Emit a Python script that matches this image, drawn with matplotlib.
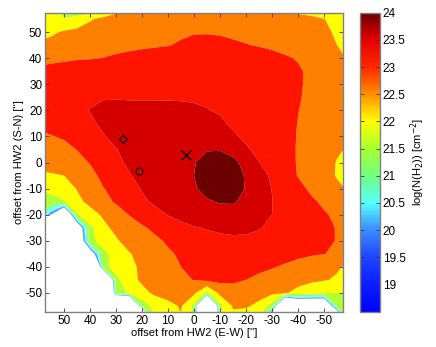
import matplotlib
matplotlib.use('Agg')
import matplotlib.pyplot as plt
from matplotlib.colors import LinearSegmentedColormap, Normalize
from matplotlib.cm import ScalarMappable

plt.rcParams['font.family'] = ['Liberation Sans', 'DejaVu Sans']
plt.rcParams['axes.unicode_minus'] = False

# ---- data ----
x_offsets = [60, 55, 50, 45, 40, 35, 30, 25, 20, 15, 10, 5, 0,
             -5, -10, -15, -20, -25, -30, -35, -40, -45, -50, -55, -60]
y_offsets = [60, 55, 50, 45, 40, 35, 30, 25, 20, 15, 10, 5, 0,
             -5, -10, -15, -20, -25, -30, -35, -40, -45, -50, -55, -60]

# log10 N(H2) on the grid, rows from y=+60 (top) to y=-60 (bottom),
# columns from x=+60 (east, left) to x=-60 (west, right)
log_nh2 = [
    [22.0, 21.75, 21.2, 21.2, 21.1, 21.6, 21.95, 22.1, 22.4, 22.45, 22.5, 22.55, 22.55, 22.55, 22.55, 22.55, 22.52, 22.5, 22.45, 22.1, 21.9, 21.85, 21.85, 21.85, 21.85],
    [21.9, 21.85, 21.8, 21.9, 22.2, 22.35, 22.45, 22.5, 22.55, 22.58, 22.6, 22.62, 22.63, 22.63, 22.62, 22.6, 22.58, 22.55, 22.53, 22.5, 22.45, 22.38, 22.26, 22.1, 22.0],
    [22.1, 22.17, 22.3, 22.38, 22.45, 22.5, 22.55, 22.58, 22.6, 22.62, 22.65, 22.68, 22.72, 22.72, 22.7, 22.65, 22.6, 22.57, 22.55, 22.5, 22.45, 22.4, 22.32, 22.2, 22.1],
    [22.3, 22.4, 22.45, 22.5, 22.55, 22.58, 22.6, 22.63, 22.67, 22.7, 22.73, 22.8, 22.87, 22.9, 22.88, 22.83, 22.77, 22.72, 22.67, 22.6, 22.52, 22.45, 22.37, 22.25, 22.1],
    [22.6, 22.66, 22.69, 22.72, 22.73, 22.755, 22.82, 22.88, 22.92, 22.96, 23.0, 23.03, 23.05, 23.06, 23.05, 23.03, 23.0, 22.95, 22.88, 22.8, 22.72, 22.6, 22.5, 22.35, 22.2],
    [22.85, 22.87, 22.9, 22.93, 22.97, 23.0, 23.05, 23.08, 23.1, 23.12, 23.13, 23.15, 23.17, 23.18, 23.18, 23.17, 23.15, 23.1, 23.02, 22.92, 22.8, 22.67, 22.55, 22.45, 22.38],
    [22.95, 22.97, 23.0, 23.03, 23.07, 23.1, 23.13, 23.15, 23.17, 23.18, 23.19, 23.2, 23.21, 23.22, 23.22, 23.2, 23.18, 23.13, 23.05, 22.94, 22.8, 22.67, 22.55, 22.45, 22.4],
    [23.0, 23.05, 23.1, 23.15, 23.2, 23.23, 23.23, 23.22, 23.22, 23.22, 23.22, 23.22, 23.22, 23.21, 23.2, 23.18, 23.15, 23.1, 23.03, 22.92, 22.79, 22.65, 22.55, 22.47, 22.42],
    [22.95, 23.05, 23.12, 23.18, 23.26, 23.32, 23.34, 23.35, 23.35, 23.35, 23.34, 23.32, 23.29, 23.26, 23.22, 23.18, 23.14, 23.08, 23.0, 22.9, 22.76, 22.63, 22.53, 22.47, 22.43],
    [22.85, 22.9, 22.98, 23.05, 23.2, 23.3, 23.37, 23.42, 23.45, 23.47, 23.48, 23.47, 23.45, 23.4, 23.3, 23.2, 23.13, 23.06, 22.98, 22.88, 22.74, 22.62, 22.53, 22.47, 22.43],
    [22.65, 22.73, 22.8, 22.9, 23.05, 23.23, 23.32, 23.4, 23.47, 23.53, 23.57, 23.6, 23.6, 23.55, 23.45, 23.3, 23.18, 23.08, 22.98, 22.87, 22.73, 22.6, 22.48, 22.4, 22.35],
    [22.5, 22.55, 22.62, 22.76, 22.95, 23.1, 23.24, 23.35, 23.45, 23.52, 23.58, 23.63, 23.69, 23.73, 23.73, 23.62, 23.3, 23.15, 23.02, 22.88, 22.72, 22.55, 22.43, 22.3, 22.2],
    [22.4, 22.45, 22.5, 22.62, 22.77, 22.95, 23.15, 23.32, 23.45, 23.55, 23.62, 23.68, 23.73, 23.87, 23.92, 23.85, 23.63, 23.26, 23.05, 22.9, 22.72, 22.55, 22.4, 22.23, 22.1],
    [22.15, 22.2, 22.25, 22.4, 22.62, 22.85, 23.02, 23.22, 23.37, 23.5, 23.6, 23.68, 23.75, 23.92, 24.0, 23.9, 23.72, 23.42, 23.18, 22.97, 22.73, 22.55, 22.4, 22.22, 22.1],
    [21.8, 21.9, 22.05, 22.27, 22.5, 22.73, 22.9, 23.07, 23.28, 23.42, 23.53, 23.62, 23.71, 23.87, 23.97, 23.9, 23.73, 23.45, 23.24, 23.05, 22.87, 22.68, 22.5, 22.33, 22.2],
    [21.4, 21.55, 21.7, 22.15, 22.35, 22.6, 22.8, 22.98, 23.17, 23.33, 23.45, 23.55, 23.62, 23.71, 23.78, 23.79, 23.66, 23.45, 23.26, 23.08, 22.95, 22.82, 22.68, 22.55, 22.45],
    [21.6, 19.8, 17.3, 21.7, 22.1, 22.3, 22.55, 22.76, 22.93, 23.1, 23.27, 23.4, 23.5, 23.55, 23.58, 23.56, 23.5, 23.4, 23.25, 23.1, 22.98, 22.88, 22.79, 22.68, 22.58],
    [13.0, 13.0, 13.0, 18.5, 21.6, 22.15, 22.35, 22.55, 22.7, 22.83, 22.98, 23.12, 23.22, 23.28, 23.35, 23.38, 23.36, 23.28, 23.15, 23.02, 22.92, 22.85, 22.8, 22.74, 22.65],
    [13.0, 13.0, 13.0, 18.0, 21.55, 22.0, 22.2, 22.4, 22.55, 22.68, 22.8, 22.92, 23.02, 23.1, 23.12, 23.15, 23.15, 23.12, 23.07, 22.98, 22.9, 22.84, 22.8, 22.74, 22.65],
    [13.0, 13.0, 13.0, 13.0, 18.8, 21.55, 22.0, 22.22, 22.38, 22.55, 22.7, 22.8, 22.88, 22.95, 23.0, 23.02, 23.02, 23.0, 22.95, 22.9, 22.85, 22.8, 22.76, 22.68, 22.6],
    [13.0, 13.0, 13.0, 13.0, 13.0, 21.5, 22.0, 22.15, 22.32, 22.48, 22.62, 22.75, 22.83, 22.88, 22.9, 22.9, 22.88, 22.84, 22.78, 22.7, 22.6, 22.5, 22.42, 22.3, 22.15],
    [13.0, 13.0, 13.0, 13.0, 13.0, 13.5, 21.6, 22.1, 22.32, 22.48, 22.6, 22.68, 22.76, 22.85, 22.87, 22.85, 22.75, 22.66, 22.58, 22.5, 22.42, 22.35, 22.28, 22.2, 22.1],
    [12.0, 12.0, 12.0, 12.0, 12.0, 12.0, 21.3, 21.85, 22.12, 22.33, 22.45, 22.45, 22.35, 21.6, 22.4, 22.5, 22.45, 22.4, 22.35, 22.3, 22.1, 21.9, 21.8, 21.75, 21.7],
    [12.0, 12.0, 12.0, 12.0, 12.0, 12.0, 12.0, 13.0, 21.4, 21.95, 22.1, 22.3, 21.6, 12.0, 21.6, 22.3, 22.3, 22.15, 21.5, 15.0, 17.0, 17.0, 17.0, 21.4, 21.6],
    [12.0, 12.0, 12.0, 12.0, 12.0, 12.0, 12.0, 12.0, 12.0, 21.8, 22.1, 22.2, 21.7, 12.0, 21.8, 22.1, 22.0, 21.7, 17.0, 12.0, 12.0, 12.0, 12.0, 16.5, 21.5],
]

# contour band edges and their fill colours (below the first edge: unfilled)
band_levels = [19.75, 20.25, 20.75, 21.25, 21.75, 22.25, 22.75, 23.25, 23.75, 30.0]
band_colors = ['#5aa8ff', '#70ffff', '#88ff88', '#b0ff30',
               '#ffff00', '#ff7f00', '#ff1400', '#d40000', '#6c0000']

# markers
diamond_pos = (27.2, 9.0)
circle_pos = (21.0, -3.2)
cross_pos = (3.0, 3.0)

cbar_ticks = [19, 19.5, 20, 20.5, 21, 21.5, 22, 22.5, 23, 23.5, 24]
x_ticks = [50, 40, 30, 20, 10, 0, -10, -20, -30, -40, -50]
y_ticks = [-50, -40, -30, -20, -10, 0, 10, 20, 30, 40, 50]

# colour bar map (blue -> cyan -> yellow -> red -> maroon)
cmap_anchor_vals = [18.5, 19.0, 19.5, 20.0, 20.5, 21.0, 21.5, 22.0, 22.5, 23.0, 23.5, 24.0]
cmap_anchor_cols = ['#0000ff', '#0a1eff', '#1e46ff', '#3c8cff', '#55ffff', '#70ff80',
                    '#a8ff30', '#ffff00', '#ff9000', '#ff2800', '#e80000', '#6a0000']

vmin, vmax = 18.5, 24.0
cmap = LinearSegmentedColormap.from_list(
    'nh2', [((v - vmin) / (vmax - vmin), c) for v, c in zip(cmap_anchor_vals, cmap_anchor_cols)])

W, H = 436, 347
fig = plt.figure(figsize=(W / 100, H / 100), dpi=100)
ax = fig.add_axes([45 / W, 1 - 312 / H, 298 / W, 299 / H])

ax.contourf(x_offsets, y_offsets, log_nh2, levels=band_levels, colors=band_colors,
            antialiased=True)

ax.plot(*diamond_pos, marker='D', ms=4.5, mfc='none', mec='black', mew=0.8)
ax.plot(*circle_pos, marker='o', ms=5, mfc='none', mec='black', mew=0.8)
ax.plot(*cross_pos, marker='x', ms=7, mec='black', mew=0.9)

ax.set_xlim(57.3, -57.3)
ax.set_ylim(-57.3, 57.3)
ax.set_xticks(x_ticks)
ax.set_yticks(y_ticks)
ax.set_xticklabels([f'{t:g}' for t in x_ticks])
ax.set_yticklabels([f'{t:g}' for t in y_ticks])
ax.tick_params(direction='in', length=3, width=0.6, top=True, right=True,
               labelsize=8.5, pad=2, colors='#333333', labelcolor='black')
for s in ax.spines.values():
    s.set_color('#808080')
    s.set_linewidth(1.0)
ax.set_xlabel("offset from HW2 (E-W) ['']", fontsize=8, labelpad=1)
ax.set_ylabel("offset from HW2 (S-N) ['']", fontsize=8, labelpad=1)

cax = fig.add_axes([359.5 / W, 1 - 311.7 / H, 20.5 / W, 299 / H])
sm = ScalarMappable(norm=Normalize(vmin, vmax), cmap=cmap)
cb = fig.colorbar(sm, cax=cax)
cb.set_ticks(cbar_ticks)
cb.set_ticklabels([f'{t:g}' for t in cbar_ticks])
cax.tick_params(direction='in', length=3, width=0.6, left=True, right=True,
                labelsize=8.5, pad=2, colors='#333333', labelcolor='black')
cb.outline.set_edgecolor('#808080')
cb.outline.set_linewidth(1.0)
cb.set_label('log(N(H$_2$)) [cm$^{-2}$]', fontsize=8, labelpad=2)

fig.savefig('out.png', dpi=100)
